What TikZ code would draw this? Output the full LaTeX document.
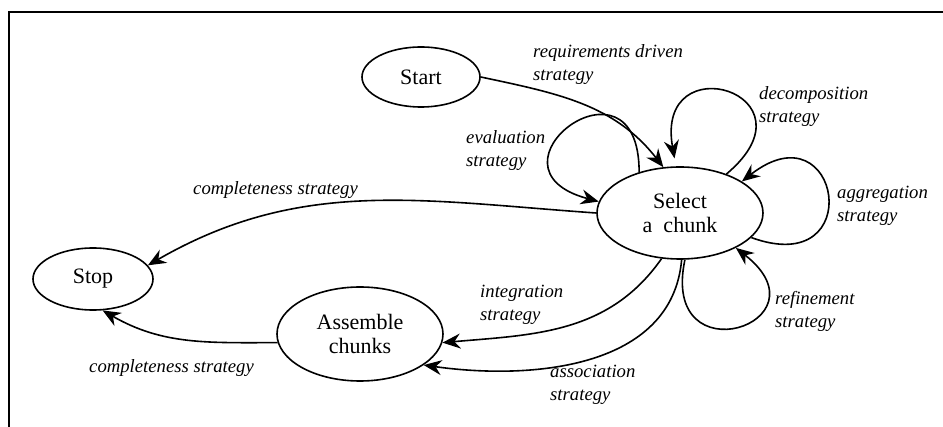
\documentclass[tikz,border=0pt]{standalone}
\usepackage{fontspec}
\setmainfont{Liberation Serif}
\usetikzlibrary{arrows.meta,shapes.geometric}
\newcommand{\stfont}{\fontsize{22}{24}\selectfont}
\newcommand{\lbfont}{\fontsize{18.7}{23}\selectfont\itshape}
\begin{document}
\begin{tikzpicture}[x=1pt,y=1pt,
    state/.style={draw,ellipse,line width=1.6pt,inner sep=0pt,align=center,font=\stfont},
    lbl/.style={anchor=west,inner sep=0pt,align=left,font=\lbfont},
    >={Stealth[length=18pt,width=15pt,inset=6pt]}]
      \useasboundingbox (0,0) rectangle (943,-427);
      \draw[line width=1.6pt] (9,-427) |- (943,-12);
      \draw
        (421,-77) node[state,minimum width=118pt,minimum height=60pt] (start){Start}
        (680,-213) node[state,minimum width=166pt,minimum height=92pt] (select){Select\\a~~chunk}
        (93,-279) node[state,minimum width=120pt,minimum height=62pt] (stop){Stop}
        (360,-334) node[state,minimum width=166pt,minimum height=94pt] (assemble){Assemble\\chunks};
      \draw
        (533,-64.5) node[lbl] (reqlbl){requirements driven\\strategy}
        (759,-106.5) node[lbl] (decomplbl){decomposition\\strategy}
        (466,-150.5) node[lbl] (evallbl){evaluation\\strategy}
        (837,-206) node[lbl] (aggrlbl){aggregation\\strategy}
        (775,-311.5) node[lbl] (refinelbl){refinement\\strategy}
        (480,-305) node[lbl] (integlbl){integration\\strategy}
        (550,-384.5) node[lbl] (assoclbl){association\\strategy}
        (193,-190) node[lbl] (stoplbl){completeness strategy}
        (89,-368) node[lbl] (assemblelbl){completeness strategy};
      \begin{scope}[->,line width=1.6pt]
        \draw (start.east) to[out=-12,in=128] (select.110);
        \draw (select.135) to[out=90,in=165,min distance=130pt] (select.172);
        \draw[shorten >=8pt] (select.40) to[out=40,in=100,min distance=125pt] (select.95);
        \draw (select.-19) to[out=-20,in=38,min distance=125pt] (select.27);
        \draw (select.-84) to[out=-102,in=-38,min distance=122pt] (select.-32);
        \draw (select.west) to[out=176,in=30] (stop.14);
        \draw (select.-112) to[out=-125,in=5] (assemble.-6);
        \draw (select.-88) to[out=-95,in=-8] (assemble.-26);
        \draw (assemble.186) to[out=180,in=-30] (stop.-73);
      \end{scope}
    \end{tikzpicture}
\end{document}
